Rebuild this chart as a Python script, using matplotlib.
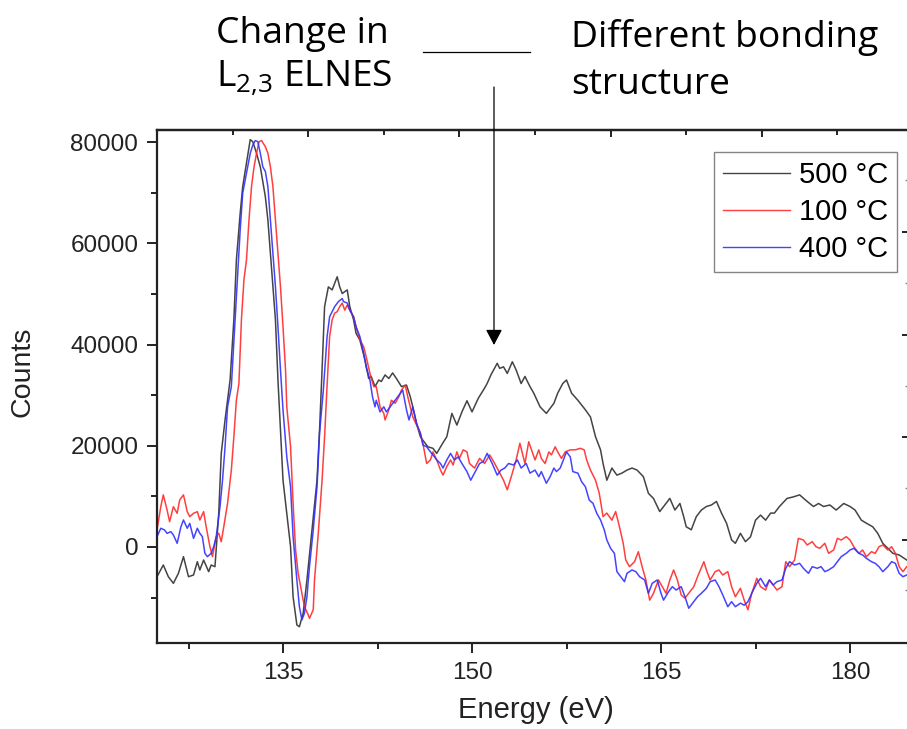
import matplotlib
matplotlib.use("Agg")
import matplotlib.pyplot as plt
from matplotlib.lines import Line2D
from matplotlib.patches import FancyArrowPatch

# ---------------- data ----------------
e_500 = [125.0,125.5,125.9,126.3,126.7,127.1,127.5,127.9,128.2,128.4,128.7,129.1,129.3,129.6,129.9,130.1,130.4,130.8,
         131.1,131.3,131.6,131.8,132.1,132.4,132.6,132.9,133.2,133.6,133.8,134.1,134.4,134.6,134.8,135.0,135.3,135.6,
         135.8,136.1,136.3,136.6,136.9,137.3,137.7,137.9,138.1,138.3,138.6,138.9,139.1,139.3,139.5,139.7,140.1,140.3,
         140.6,140.8,141.1,141.5,141.8,142.0,142.3,142.6,142.8,143.1,143.4,143.7,144.0,144.4,144.8,145.1,145.3,145.6,
         145.9,146.1,146.5,146.9,147.2,147.6,148.0,148.4,148.8,149.2,149.6,150.0,150.5,150.9,151.2,151.5,152.0,152.2,
         152.5,152.8,153.2,153.5,153.9,154.2,154.6,154.9,155.4,155.9,156.5,156.8,157.2,157.5,157.9,158.4,159.0,159.4,
         159.8,160.2,160.4,160.7,161.1,161.5,161.9,162.3,162.7,163.1,163.6,164.0,164.4,164.9,165.3,165.7,166.1,166.5,
         166.8,167.0,167.4,167.8,168.2,168.6,169.0,169.4,169.8,170.2,170.6,170.9,171.3,171.7,172.1,172.5,172.9,173.3,
         173.7,174.0,174.4,175.0,175.5,176.0,176.6,177.1,177.5,177.9,178.4,178.9,179.5,180.0,180.4,180.9,181.3,181.8,
         182.2,182.6,183.0,183.4,183.9,184.5,184.9]
c_500 = [-5870,-3560,-5870,-7180,-5200,-1910,-5870,-5530,-2900,-4540,-2570,-4870,-3560,-3890,6660,18500,25100,33000,
         44900,56700,65900,71200,75800,80500,80100,77800,75100,69200,64600,54700,44900,33000,23100,13200,6700,60,
         -9820,-15400,-15750,-13100,-6500,3360,13240,23100,35000,47500,51400,50800,52100,53400,51400,50100,50800,47500,
         44900,42200,40900,37000,33300,33700,31700,33000,32700,34000,33300,34400,33300,31700,32000,29700,27700,24400,
         21800,21100,19800,19500,18500,20200,21800,26400,24100,26700,28900,26700,29400,31000,32300,34000,36300,35300,
         35600,34300,36600,35000,32300,33700,31700,30400,27700,26400,28400,30400,32300,33000,30400,29000,27100,25700,
         21800,19200,16500,13200,15600,14200,14600,15200,15600,15200,13900,10600,9600,7000,8300,9600,7300,8600,
         6000,4000,3400,6000,7300,8000,8300,9000,6700,4700,1400,730,2700,1050,2000,5300,6300,5300,
         6700,6700,8000,9600,9900,10300,9000,8000,8600,8000,8300,7300,8600,8000,7300,5300,4700,4000,
         2700,730,-260,-1250,-1580,-2570,-2900]

e_100 = [125.0,125.3,125.5,125.8,126.0,126.3,126.6,126.8,127.1,127.4,127.6,127.9,128.2,128.4,128.7,128.9,129.2,129.4,
         129.7,129.9,130.1,130.3,130.6,130.9,131.1,131.3,131.5,131.7,131.9,132.1,132.3,132.5,132.7,132.9,133.1,133.3,
         133.6,133.8,134.0,134.2,134.4,134.6,134.8,135.0,135.2,135.3,135.6,135.8,136.0,136.2,136.5,136.7,137.0,137.1,
         137.4,137.5,137.8,138.1,138.3,138.5,138.7,138.9,139.1,139.3,139.5,139.7,139.9,140.1,140.3,140.6,140.8,141.1,
         141.4,141.6,141.9,142.2,142.4,142.7,143.0,143.1,143.4,143.6,143.9,144.2,144.4,144.7,144.9,145.1,145.3,145.6,
         145.9,146.1,146.4,146.7,146.9,147.2,147.5,147.7,148.0,148.3,148.5,148.8,149.0,149.3,149.6,149.8,150.2,150.6,
         151.0,151.4,151.8,152.2,152.5,152.8,153.2,153.5,153.8,154.2,154.5,155.0,155.3,155.5,155.8,156.1,156.3,156.6,
         156.8,157.1,157.4,157.8,158.2,158.6,158.9,159.1,159.4,159.8,160.1,160.4,160.7,161.1,161.4,161.7,162.0,162.2,
         162.5,162.9,163.2,163.5,163.8,164.1,164.4,164.8,165.1,165.4,165.7,166.0,166.3,166.6,166.9,167.2,167.6,167.9,
         168.4,168.6,168.9,169.3,169.6,169.9,170.3,170.6,170.9,171.3,171.6,171.9,172.2,172.6,172.9,173.3,173.6,173.9,
         174.2,174.6,174.9,175.2,175.6,175.9,176.3,176.6,177.0,177.3,177.6,178.0,178.3,178.7,179.0,179.3,179.7,180.0,
         180.3,180.7,181.0,181.3,181.7,182.0,182.3,182.6,183.0,183.3,183.6,183.9,184.2,184.5,184.9]
c_100 = [3360,7960,10300,7300,5000,7960,6660,9290,10300,6980,5990,6660,6980,5340,6980,4010,60,-1910,
         2040,2700,1050,4010,8630,15200,21800,29000,32300,44900,52800,56700,64600,71200,75100,77800,80100,80300,
         79100,77800,75100,71200,64600,58000,51400,43500,35000,27700,19800,8630,-590,-5200,-9150,-11800,-13400,-14100,
         -12400,-6500,2700,13200,21800,32000,41600,44900,46200,46500,47500,48200,46800,47800,46800,45500,43500,40900,
         39600,37600,34300,31700,31700,27700,26400,25100,27100,29000,28400,29700,31000,32000,29700,27700,25700,24100,
         22500,20500,16500,17200,18800,17200,15200,14200,15900,17200,16200,18800,17500,19200,18800,16500,15600,17500,
         16500,18200,16500,14600,13200,11300,14600,17200,20500,16500,20800,17200,19200,17500,16500,18800,18200,19800,
         18800,17500,18800,19200,19200,19500,19200,17200,15200,13200,10600,6000,6700,5300,7000,4000,730,-2570,
         -3890,-2900,-930,-3890,-6520,-10500,-9150,-6520,-7840,-9150,-6520,-4540,-6520,-9480,-10100,-9150,-7840,-5870,
         -2900,-4540,-6520,-4870,-4540,-5530,-4870,-7840,-9820,-8160,-10500,-12400,-9150,-6190,-7840,-8500,-6520,-7510,
         -8500,-7840,-2900,-3890,-2570,1710,1380,400,1050,60,-260,730,-1250,-590,1710,1380,2040,1380,
         60,-1250,-590,-1910,-930,-1250,60,400,-590,60,-1250,-3890,-4870,-3890,-3500]

e_400 = [125.0,125.3,125.6,125.8,126.1,126.3,126.6,126.9,127.1,127.4,127.6,127.9,128.2,128.4,128.6,128.8,129.0,129.3,
         129.5,129.7,130.0,130.2,130.4,130.6,130.9,131.2,131.4,131.6,131.8,132.0,132.2,132.4,132.6,132.8,133.0,133.2,
         133.4,133.6,133.8,134.0,134.2,134.4,134.6,134.8,135.0,135.3,135.6,135.8,136.1,136.3,136.5,136.7,136.9,137.1,
         137.4,137.7,137.9,138.2,138.5,138.7,138.9,139.1,139.4,139.7,139.8,140.1,140.3,140.6,140.8,141.1,141.4,141.6,
         141.9,142.1,142.3,142.4,142.7,143.0,143.2,143.5,143.8,144.0,144.3,144.5,144.8,145.0,145.3,145.6,145.9,146.1,
         146.4,146.7,146.9,147.2,147.5,147.7,148.0,148.3,148.6,148.9,149.2,149.6,149.9,150.2,150.6,150.9,151.2,151.6,
         152.0,152.3,152.6,152.9,153.3,153.6,153.9,154.3,154.6,155.0,155.3,155.5,155.9,156.2,156.5,156.7,157.0,157.2,
         157.5,157.8,158.0,158.4,158.7,159.0,159.3,159.6,159.9,160.2,160.5,160.7,161.0,161.3,161.5,161.8,162.1,162.3,
         162.7,163.0,163.3,163.7,164.0,164.3,164.7,165.0,165.2,165.6,165.9,166.2,166.6,166.9,167.2,167.6,167.9,168.2,
         168.6,168.9,169.3,169.6,169.9,170.3,170.6,170.9,171.3,171.6,171.9,172.2,172.6,172.9,173.3,173.6,173.9,174.2,
         174.6,174.9,175.2,175.6,176.0,176.3,176.7,177.0,177.4,177.7,178.0,178.3,178.7,179.0,179.3,179.7,180.0,180.3,
         180.7,181.0,181.3,181.7,182.0,182.3,182.6,183.0,183.3,183.6,183.9,184.2,184.5,184.9]
c_400 = [2040,3700,3360,2700,3030,2370,730,4010,5340,3700,4670,1710,3700,2700,2040,-1250,-1910,-1250,
         60,2040,7960,13200,19800,27700,31700,44900,53400,62600,69900,72500,75100,77800,79400,80300,80100,77800,
         75100,74200,71200,64600,58000,51400,43500,35000,27100,17800,11900,2040,-6520,-11800,-14400,-13100,-9820,-3890,
         3360,11900,22500,31000,41600,45500,46500,47500,48500,49100,48500,48200,46800,45500,43500,41600,38300,35600,
         33000,29700,27700,29000,26700,27700,26700,27700,28700,29400,30400,31000,27100,25100,27700,24400,22500,20200,
         19800,18800,18200,17200,16500,15600,17200,18500,17200,17800,16500,14900,13200,14600,16500,16900,18500,16500,
         14200,15200,15600,16500,16200,17200,15600,16500,14600,15200,13900,14900,12600,13900,15600,14900,15600,16900,
         18800,17800,14900,14600,12900,11900,9290,8630,6660,5340,3360,1380,-260,-1250,-4870,-5870,-6850,-5200,
         -4540,-4870,-5870,-6520,-9150,-7180,-6520,-9150,-10500,-8820,-7840,-8500,-7840,-9820,-12100,-10800,-9820,-9150,
         -8160,-6850,-6520,-7840,-9480,-11800,-10800,-11800,-11100,-11500,-10800,-9150,-7180,-6190,-7840,-6520,-7510,-6850,
         -6520,-4210,-2900,-3560,-3230,-4210,-5200,-3890,-4210,-3890,-4870,-4540,-3890,-2900,-1910,-1250,-590,-260,
         -1250,-1580,-2240,-2900,-3230,-3890,-4870,-3890,-2900,-3230,-5200,-5870,-5530,-5200]

series_labels = ["500 °C", "100 °C", "400 °C"]
series_colors = ["#303030", "#ff2a2a", "#3030ff"]

x_major = [135, 150, 165, 180]
x_minor = [127.5, 142.5, 157.5, 172.5]
y_major = [0, 20000, 40000, 60000, 80000]
y_minor = [-10000, 10000, 30000, 50000, 70000]
top_major = [137, 149, 161, 173, 185]
top_minor = [131, 143, 155, 167, 179]
right_major = [1400, 21700, 41900, 62200]
right_minor = [-8500, 11700, 31800, 52200, 72500]

# ---------------- figure ----------------
W, H = 907, 729
fig = plt.figure(figsize=(W / 100, H / 100), dpi=100)
fig.patch.set_facecolor("white")


def fx(x):
    return x / W


def fy(y):
    return 1 - y / H


ax_left, ax_right, ax_top, ax_bottom = 157, 910, 130, 643
ax = fig.add_axes([fx(ax_left), fy(ax_bottom), (ax_right - ax_left) / W, (ax_bottom - ax_top) / H])

for e, c, lab, col in zip([e_500, e_100, e_400], [c_500, c_100, c_400], series_labels, series_colors):
    ax.plot(e, c, color=col, lw=1.1, label=lab, alpha=0.9)

ax.set_xlim(125, 184.76)
ax.set_ylim(-18970, 82400)

tick_font = dict(family="Liberation Sans", size=17.5)
ax.set_xticks(x_major)
ax.set_xticks(x_minor, minor=True)
ax.set_yticks(y_major)
ax.set_yticks(y_minor, minor=True)
ax.set_xticklabels([str(v) for v in x_major], fontdict=tick_font)
ax.set_yticklabels([str(v) for v in y_major], fontdict=tick_font)
ax.tick_params(which="major", direction="out", length=7.5, width=1.4, pad=6, colors="#222222")
ax.tick_params(which="minor", direction="out", length=4.5, width=1.4, colors="#222222")
ax.tick_params(axis="both", labelcolor="#222222")
for sp in ax.spines.values():
    sp.set_linewidth(1.6)
    sp.set_color("#222222")

# top and right axes carry their own tick spacing
top = ax.secondary_xaxis("top")
top.set_xticks(top_major)
top.set_xticks(top_minor, minor=True)
top.set_xticklabels([])
top.tick_params(which="major", direction="in", length=5, width=1.4, colors="#222222")
top.tick_params(which="minor", direction="in", length=3.5, width=1.4, colors="#222222")
top.spines["top"].set_linewidth(1.6)

right = ax.secondary_yaxis("right")
right.set_yticks(right_major)
right.set_yticks(right_minor, minor=True)
right.set_yticklabels([])
right.tick_params(which="major", direction="in", length=5.5, width=1.4, colors="#222222")
right.tick_params(which="minor", direction="in", length=3.5, width=1.0, colors="#888888")

ax.set_xlabel("Energy (eV)", family="Liberation Sans", size=21, color="#222222")
ax.xaxis.set_label_coords(fx(536), fy(710), transform=fig.transFigure)
ax.xaxis.label.set_verticalalignment("center")
ax.set_ylabel("Counts", family="Liberation Sans", size=20.5, color="#222222")
ax.yaxis.set_label_coords(fx(23), fy(372), transform=fig.transFigure)
ax.yaxis.label.set_verticalalignment("center")

leg = ax.legend(loc="upper right", bbox_to_anchor=(fx(897), fy(152)), bbox_transform=fig.transFigure,
                prop=dict(family="Liberation Sans", size=21), frameon=True, fancybox=False,
                borderaxespad=0, borderpad=0.3, labelspacing=0.32, handlelength=2.3, handletextpad=0.3)
leg.get_frame().set_edgecolor("#666666")
leg.get_frame().set_linewidth(1.0)
for h in leg.get_lines():
    h.set_linewidth(1.0)

# ---------------- annotations ----------------
plt.rcParams["mathtext.fontset"] = "custom"
plt.rcParams["mathtext.rm"] = "Open Sans"
note_font = dict(family="Open Sans", size=26.8, color="black")
fig.text(fx(216), fy(43), "Change in", va="baseline", ha="left", **note_font)
fig.text(fx(216), fy(86), r"L$_{\mathrm{2{,}3}}$ ELNES", va="baseline", ha="left", **note_font)
fig.text(fx(571), fy(47), "Different bonding", va="baseline", ha="left", **note_font)
fig.text(fx(571), fy(94), "structure", va="baseline", ha="left", **note_font)

fig.add_artist(Line2D([fx(423), fx(530)], [fy(52), fy(52)], transform=fig.transFigure,
                      color="black", lw=0.9))
arrow = FancyArrowPatch((fx(494), fy(87)), (fx(494), fy(345)), transform=fig.transFigure,
                        arrowstyle="-|>,head_length=0.95,head_width=0.5", mutation_scale=10,
                        color="black", lw=0.9, shrinkA=0, shrinkB=0, zorder=10)
fig.add_artist(arrow)

fig.savefig("out.png", dpi=100, facecolor="white")
